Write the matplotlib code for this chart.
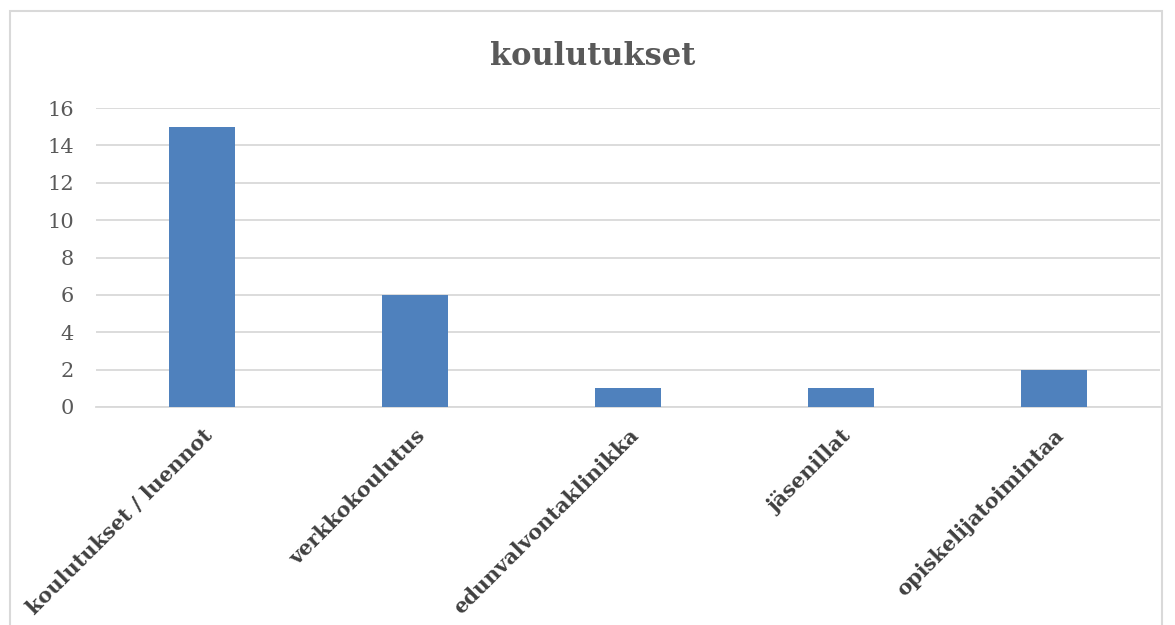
import matplotlib.pyplot as plt
from matplotlib.patches import Rectangle

# data
categories = ["koulutukset / luennot", "verkkokoulutus", "edunvalvontaklinikka",
              "jäsenillat", "opiskelijatoimintaa"]
values = [15, 6, 1, 1, 2]
yticks = list(range(0, 17, 2))


def main():
    plt.rcParams['font.family'] = ['DejaVu Serif']
    fig = plt.figure(figsize=(11.75, 6.25), dpi=100)
    ax = fig.add_axes([0.0817, 0.3488, 0.9055, 0.4784])

    # chart frame (runs off the bottom like the reference)
    fig.patches.append(Rectangle((10 / 1175, -0.05), 1162 / 1175 - 10 / 1175, 1.05 - 11 / 625,
                                 transform=fig.transFigure, fill=False,
                                 edgecolor='#D9D9D9', linewidth=1.5))

    x = range(len(categories))
    ax.bar(x, values, width=0.31, color='#4F81BD', zorder=3)

    ax.set_xlim(-0.5, len(categories) - 0.5)
    ax.set_ylim(0, 16)
    ax.set_yticks(yticks)
    ax.set_yticklabels([str(t) for t in yticks], fontsize=15, color='#595959')
    ax.yaxis.grid(True, color='#D9D9D9', linewidth=1.3, zorder=0)
    ax.tick_params(axis='both', length=0)
    ax.tick_params(axis='y', pad=16)

    ax.set_xticks(list(x))
    ax.set_xticklabels(categories, rotation=45, ha='right', rotation_mode='anchor',
                       fontsize=15, fontweight='bold', color='#404040')
    ax.tick_params(axis='x', pad=13)

    for side in ['top', 'right', 'left']:
        ax.spines[side].set_visible(False)
    ax.spines['bottom'].set_color('#D9D9D9')
    ax.spines['bottom'].set_linewidth(1.3)

    fig.text(0.504, 0.91, "koulutukset", ha='center', va='center',
             fontsize=22, fontweight='bold', color='#595959')

    fig.savefig("out.png", dpi=100)


if __name__ == "__main__":
    main()
